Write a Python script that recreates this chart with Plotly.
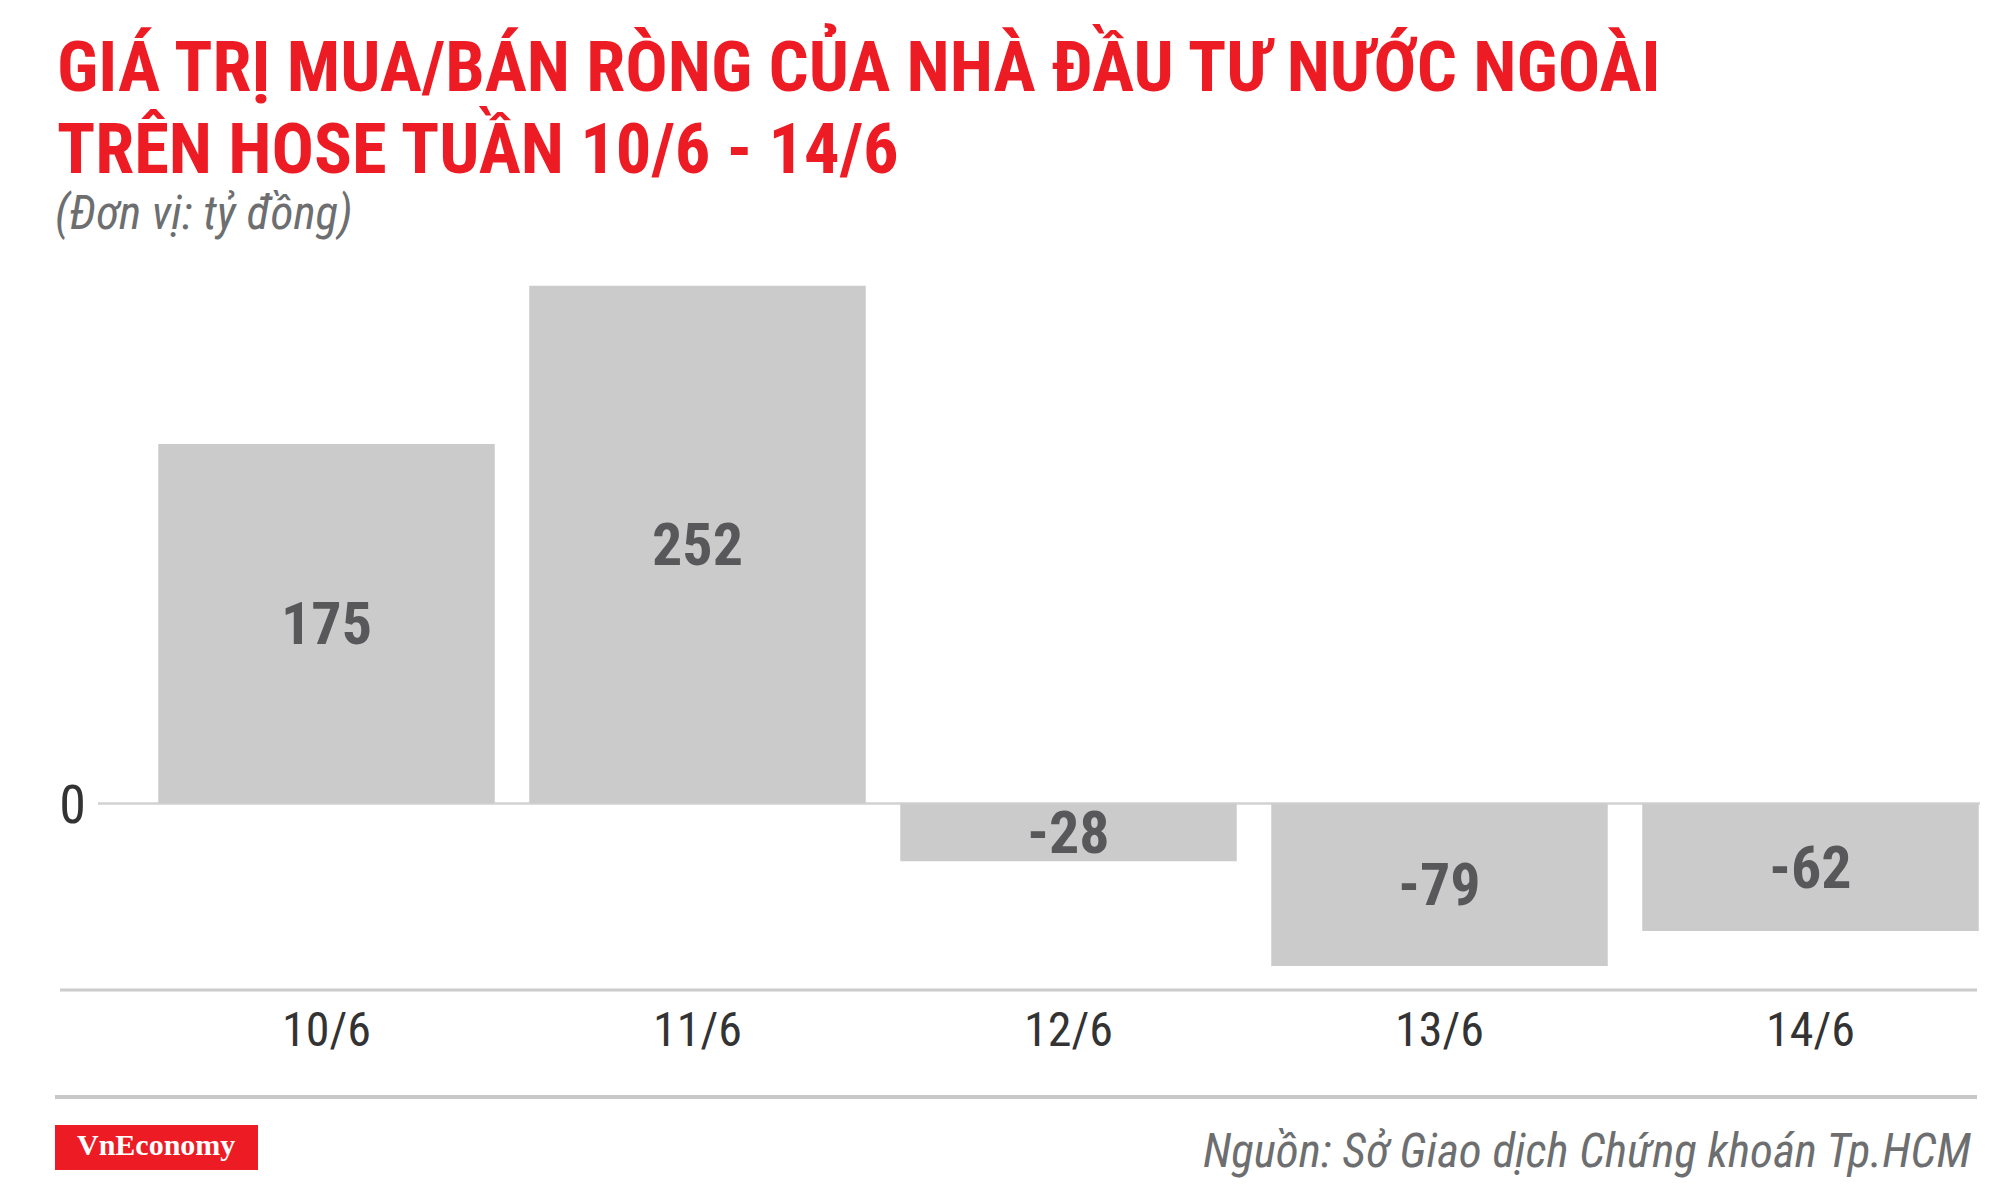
import plotly.graph_objects as go

# ---- data ----
categories = ["10/6", "11/6", "12/6", "13/6", "14/6"]
values = [175, 252, -28, -79, -62]
value_labels = ["175", "252", "-28", "-79", "-62"]

title_line1 = "GIÁ TRỊ MUA/BÁN RÒNG CỦA NHÀ ĐẦU TƯ NƯỚC NGOÀI"
title_line2 = "TRÊN HOSE TUẦN 10/6 - 14/6"
subtitle = "(Đơn vị: tỷ đồng)"
source = "Nguồn: Sở Giao dịch Chứng khoán Tp.HCM"
brand = "VnEconomy"

# ---- layout geometry (pixels, in page coordinates) ----
OFF = 8  # default page body margin
W, H = 2000 - OFF, 1187 - OFF
PL, PR, PT, PB = 141, 1996, 260, 990  # plot area in page pixels


def px(x):
    return (x - PL) / (PR - PL)


def py(y):
    return (PB - y) / (PB - PT)


NARROW = "Liberation Sans Narrow, Arial Narrow, Roboto Condensed, Roboto, sans-serif"
RED = "#ED1C24"

fig = go.Figure(
    go.Bar(
        x=categories,
        y=values,
        text=value_labels,
        textposition="inside",
        insidetextanchor="middle",
        constraintext="none",
        textfont=dict(family=NARROW, size=60, color="#58585a", weight="bold"),
        marker=dict(color="#cccbcc", line=dict(width=0)),
        cliponaxis=False,
        hoverinfo="skip",
    )
)

fig.update_layout(
    width=W,
    height=H,
    paper_bgcolor="white",
    plot_bgcolor="white",
    margin=dict(l=PL - OFF, r=W - (PR - OFF), t=PT - OFF, b=H - (PB - OFF), pad=0),
    bargap=0.093,
    showlegend=False,
    uniformtext=dict(minsize=60, mode="show"),
    xaxis=dict(
        range=[-0.5, 4.5],
        showgrid=False,
        zeroline=False,
        showline=False,
        ticks="",
        tickfont=dict(family=NARROW, size=48, color="#333333"),
        ticklabelstandoff=7,
    ),
    yaxis=dict(
        range=[-90.7, 264.5],
        showgrid=False,
        zeroline=False,
        showline=False,
        ticks="",
        tickvals=[0],
        ticktext=["0"],
        tickfont=dict(family=NARROW, size=54, color="#333333"),
        ticklabelstandoff=54,
    ),
)

shapes = [
    # zero line
    dict(type="line", xref="paper", yref="y", x0=px(98), x1=px(1980), y0=0, y1=0,
         line=dict(color="#d2d2d2", width=2.5), layer="below"),
    # bottom axis line
    dict(type="line", xref="paper", yref="paper", x0=px(60), x1=px(1977), y0=py(990), y1=py(990),
         line=dict(color="#cccccc", width=3), layer="above"),
    # footer separator
    dict(type="line", xref="paper", yref="paper", x0=px(55), x1=px(1977), y0=py(1097), y1=py(1097),
         line=dict(color="#c8c8c8", width=4), layer="above"),
    # brand box
    dict(type="rect", xref="paper", yref="paper", x0=px(55), x1=px(258), y0=py(1125), y1=py(1170),
         fillcolor=RED, line=dict(width=0), layer="above"),
]
fig.update_layout(shapes=shapes)

annotations = [
    dict(text=title_line1, x=px(55), y=py(65), xref="paper", yref="paper",
         xanchor="left", yanchor="middle", showarrow=False,
         font=dict(family=NARROW, size=70.5, color=RED, weight="bold")),
    dict(text=title_line2, x=px(55), y=py(148), xref="paper", yref="paper",
         xanchor="left", yanchor="middle", showarrow=False,
         font=dict(family=NARROW, size=70.5, color=RED, weight="bold")),
    dict(text=subtitle, x=px(53), y=py(213), xref="paper", yref="paper",
         xanchor="left", yanchor="middle", showarrow=False,
         font=dict(family=NARROW, size=47, color="#6d6e70", style="italic")),
    dict(text=brand, x=px(156), y=py(1144), xref="paper", yref="paper",
         xanchor="center", yanchor="middle", showarrow=False,
         font=dict(family="Liberation Serif, Times New Roman, serif", size=30, color="white", weight="bold")),
    dict(text=source, x=px(1973), y=py(1150), xref="paper", yref="paper",
         xanchor="right", yanchor="middle", showarrow=False,
         font=dict(family=NARROW, size=47, color="#6d6e70", style="italic")),
]
fig.update_layout(annotations=annotations)

fig.write_html("out.html")
